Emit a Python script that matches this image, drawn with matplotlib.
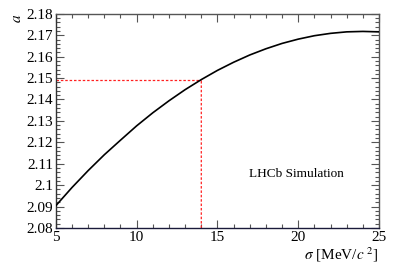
import matplotlib
matplotlib.use("Agg")
import matplotlib.pyplot as plt
from matplotlib.ticker import MultipleLocator

plt.rcParams["font.family"] = ["Liberation Serif", "DejaVu Serif"]
plt.rcParams["mathtext.fontset"] = "stix"

# curve
sigma = [5, 6, 7, 8, 9, 10, 11, 12, 13, 14, 15,
         16, 17, 18, 19, 20, 21, 22, 23, 24, 25]
a_val = [2.0904, 2.0989, 2.1068, 2.1142, 2.1210, 2.1277, 2.1338, 2.1394,
         2.1446, 2.1493, 2.1536, 2.1574, 2.1608, 2.1637, 2.1662, 2.1682,
         2.1698, 2.1709, 2.1716, 2.1718, 2.1716]
sel_sigma = 14
sel_a = 2.149

fig = plt.figure(figsize=(3.99, 2.72), dpi=100)
ax = fig.add_axes([0.140, 0.162, 0.810, 0.787])

ax.plot(sigma, a_val, color="black", lw=1.2, zorder=3)
ax.plot([5, sel_sigma], [sel_a, sel_a], color="#ff2020", lw=0.9,
        ls=(0, (2, 1.5)), zorder=2)
ax.plot([sel_sigma, sel_sigma], [2.08, sel_a], color="#ff2020", lw=0.9,
        ls=(0, (2, 1.5)), zorder=2, snap=False)

ax.set_xlim(5, 25)
ax.set_ylim(2.08, 2.18)
ax.xaxis.set_major_locator(MultipleLocator(5))
ax.xaxis.set_minor_locator(MultipleLocator(1))
ax.yaxis.set_major_locator(MultipleLocator(0.01))
ax.yaxis.set_minor_locator(MultipleLocator(0.002))
ax.set_yticklabels([f"{v:g}" for v in ax.get_yticks()])
ax.tick_params(which="both", direction="in", top=True, right=True,
               labelsize=11, pad=2, color="#555555")
ax.tick_params(which="major", length=6, width=0.8)
ax.tick_params(which="minor", length=3, width=0.8)
for s in ax.spines.values():
    s.set_linewidth(1.0)
    s.set_color("#555555")
ax.spines["bottom"].set_color("#1a1a3a")
ax.spines["left"].set_color("#333333")

ax.text(0.745, 0.25, "LHCb Simulation", transform=ax.transAxes,
        ha="center", va="center", fontsize=9.5)
ax.set_xlabel(r"$\sigma$ [MeV/$c$ $^{2}$]", fontsize=11, loc="right", labelpad=1)
ax.set_ylabel(r"$a$", fontsize=11, loc="top", labelpad=2)

fig.savefig("out.png", dpi=100)
